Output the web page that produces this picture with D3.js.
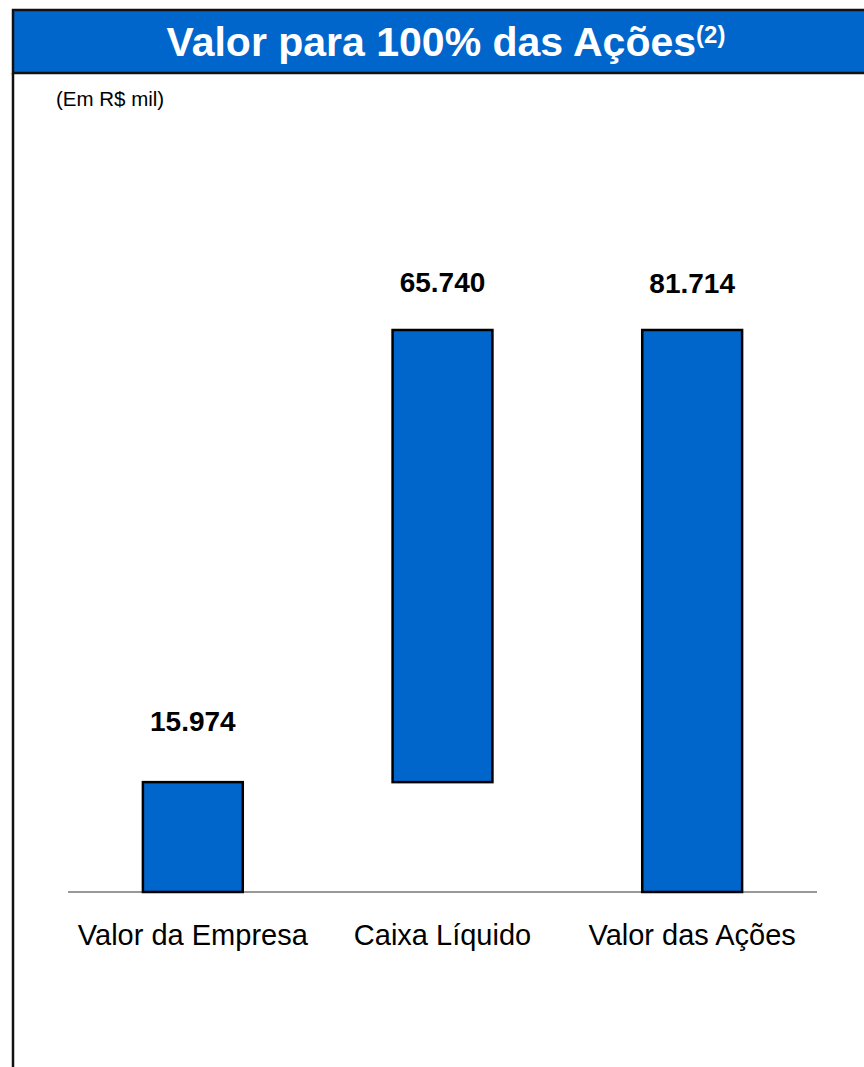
<!DOCTYPE html>
<html>
<head>
<meta charset="utf-8">
<script src="https://cdn.jsdelivr.net/npm/d3@7"></script>
<style>
    body { margin: 0; background: #fff; }
    svg { display: block; font-family: 'Liberation Sans', Arial, sans-serif; }
</style>
</head>
<body>
<svg id="chart" width="864" height="1067"></svg>
<script>
// values in R$ mil
const categories = ['Valor da Empresa', 'Caixa Líquido', 'Valor das Ações']
const values = [15974, 65740, 81714]
const isTotal = [false, false, true]
const valueLabels = ['15.974', '65.740', '81.714']

const blue = '#0066cc'
const svg = d3.select('#chart')

// header band
svg.append('rect')
    .attr('x', 13)
    .attr('y', 10)
    .attr('width', 870)
    .attr('height', 63)
    .attr('fill', blue)
    .attr('stroke', '#111')
    .attr('stroke-width', 2.5)

const title = svg.append('text')
    .attr('x', 446)
    .attr('y', 56)
    .attr('text-anchor', 'middle')
    .attr('fill', '#fff')
    .attr('font-weight', 'bold')
    .attr('font-size', 41)
title.append('tspan').text('Valor para 100% das Ações')
title.append('tspan')
    .attr('font-size', 24)
    .attr('dy', -13)
    .text('(2)')

// left border
svg.append('line')
    .attr('x1', 13).attr('x2', 13)
    .attr('y1', 73).attr('y2', 1067)
    .attr('stroke', '#111')
    .attr('stroke-width', 2.5)

svg.append('text')
    .attr('x', 56)
    .attr('y', 106)
    .attr('font-size', 20.5)
    .attr('fill', '#000')
    .text('(Em R$ mil)')

// waterfall: running start for each bar
let run = 0
const bars = values.map((v, i) => {
    const start = isTotal[i] ? 0 : run
    const end = isTotal[i] ? v : run + v
    if (!isTotal[i]) run += v
    return { cat: categories[i], start, end, label: valueLabels[i] }
})

const x = d3.scaleBand()
    .domain(categories)
    .range([68, 817])
    .paddingInner(0.6)
    .paddingOuter(0.3)

const y = d3.scaleLinear()
    .domain([0, d3.max(values)])
    .range([892, 330])

svg.append('line')
    .attr('x1', 68).attr('x2', 817)
    .attr('y1', y(0)).attr('y2', y(0))
    .attr('stroke', '#333')
    .attr('stroke-width', 1.2)

svg.append('g')
    .selectAll('rect')
    .data(bars)
    .join('rect')
    .attr('x', (d) => x(d.cat))
    .attr('width', x.bandwidth())
    .attr('y', (d) => y(d.end))
    .attr('height', (d) => y(d.start) - y(d.end))
    .attr('fill', blue)
    .attr('stroke', '#000')
    .attr('stroke-width', 2.5)

// label gaps above bar tops
const labelGap = [51, 38, 37]

svg.append('g')
    .selectAll('text')
    .data(bars)
    .join('text')
    .attr('x', (d) => x(d.cat) + x.bandwidth() / 2)
    .attr('y', (d, i) => y(d.end) - labelGap[i])
    .attr('text-anchor', 'middle')
    .attr('font-weight', 'bold')
    .attr('font-size', 28)
    .text((d) => d.label)

svg.append('g')
    .selectAll('text')
    .data(categories)
    .join('text')
    .attr('x', (d) => x(d) + x.bandwidth() / 2)
    .attr('y', 945)
    .attr('text-anchor', 'middle')
    .attr('font-size', 29)
    .text((d) => d)
</script>
</body>
</html>
